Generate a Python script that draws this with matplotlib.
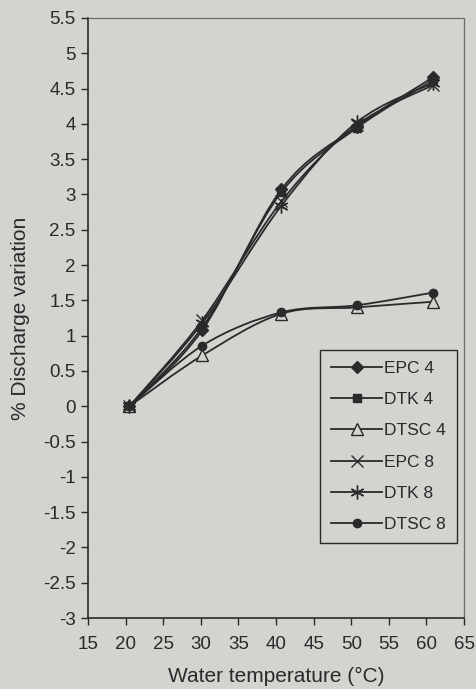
import numpy as np
import matplotlib as mpl
import matplotlib.pyplot as plt
from matplotlib.path import Path
from matplotlib.patches import PathPatch
from matplotlib.lines import Line2D

mpl.rcParams.update({
    'font.family': 'sans-serif',
    'font.sans-serif': ['Liberation Sans', 'DejaVu Sans'],
    'font.size': 11,
    'axes.unicode_minus': False,
})

BG = '#d3d3d0'
INK = '#2a2a2a'

# measured water temperatures (deg C)
temps = [20.5, 30.2, 40.7, 50.7, 60.9]

epc4 = [0.0, 1.08, 3.07, 3.96, 4.66]
dtk4 = [0.0, 1.12, 3.03, 3.94, 4.62]
dtsc4 = [0.0, 0.72, 1.31, 1.40, 1.48]
epc8 = [0.0, 1.22, 2.90, 3.98, 4.55]
dtk8 = [0.0, 1.18, 2.84, 4.02, 4.58]
dtsc8 = [0.0, 0.86, 1.33, 1.43, 1.61]

series_names = ['EPC 4', 'DTK 4', 'DTSC 4', 'EPC 8', 'DTK 8', 'DTSC 8']
series_vals = [epc4, dtk4, dtsc4, epc8, dtk8, dtsc8]

x_ticks = list(range(15, 70, 5))
y_ticks = list(np.arange(-3, 5.51, 0.5))

MARKERS = {
    'EPC 4':  dict(marker='D', ms=6, mfc=INK, mec=INK),
    'DTK 4':  dict(marker='s', ms=6, mfc=INK, mec=INK),
    'DTSC 4': dict(marker='^', ms=8, mfc=BG, mec=INK, mew=1.0),
    'EPC 8':  dict(marker='x', ms=9, mfc=INK, mec=INK, mew=1.0),
    'DTK 8':  dict(marker=(6, 2, 0), ms=10, mfc=INK, mec=INK, mew=1.0),
    'DTSC 8': dict(marker='o', ms=6, mfc=INK, mec=INK),
}


def smooth_path(xs, ys):
    # bezier curve through the points, like a spreadsheet "smoothed line"
    pts = np.column_stack([xs, ys])
    n = len(pts)
    verts = [pts[0]]
    codes = [Path.MOVETO]
    for i in range(n - 1):
        p0 = pts[max(i - 1, 0)]
        p1 = pts[i]
        p2 = pts[i + 1]
        p3 = pts[min(i + 2, n - 1)]
        c1 = p1 + (p2 - p0) / 6.0
        c2 = p2 - (p3 - p1) / 6.0
        verts += [c1, c2, p2]
        codes += [Path.CURVE4] * 3
    return Path(verts, codes)


fig = plt.figure(figsize=(4.76, 6.89), dpi=100, facecolor=BG)
ax = fig.add_axes([0.185, 0.103, 0.790, 0.871], facecolor=BG)

for name, vals in zip(series_names, series_vals):
    ax.add_patch(PathPatch(smooth_path(temps, vals), fc='none',
                           ec=INK, lw=1.3, zorder=2))
    ax.plot(temps, vals, ls='none', zorder=3, **MARKERS[name])

ax.set_xlim(15, 65)
ax.set_ylim(-3, 5.5)
ax.set_xticks(x_ticks)
ax.set_yticks(y_ticks)
ax.set_yticklabels([f'{v:g}' for v in y_ticks])
ax.tick_params(direction='out', length=5, width=1, colors=INK,
               labelsize=13.5)
ax.tick_params(axis='x', pad=8)
ax.tick_params(axis='y', pad=4)

for side in ['left', 'bottom']:
    ax.spines[side].set_color(INK)
    ax.spines[side].set_linewidth(1.2)
for side in ['top', 'right']:
    ax.spines[side].set_color('#6a6a6a')
    ax.spines[side].set_linewidth(0.9)
    ax.spines[side].set_linestyle((0, (1, 1)))

ax.set_xlabel('Water temperature (°C)', fontsize=15, color=INK, labelpad=10)
ax.set_ylabel('% Discharge variation', fontsize=15, color=INK, labelpad=9)

handles = []
for name in series_names:
    handles.append(Line2D([], [], color=INK, lw=1.3, label=name,
                          **MARKERS[name]))
leg = ax.legend(handles=handles, loc='upper left',
                bbox_to_anchor=(0.617, 0.447), frameon=True, fancybox=False,
                edgecolor=INK, facecolor=BG, framealpha=1,
                fontsize=12.5, handlelength=2.9, handletextpad=0.15,
                labelspacing=0.92, borderpad=0.65, borderaxespad=0)
leg.get_frame().set_linewidth(1.0)
for t in leg.get_texts():
    t.set_color(INK)

fig.savefig('out.png', dpi=100, facecolor=BG)
